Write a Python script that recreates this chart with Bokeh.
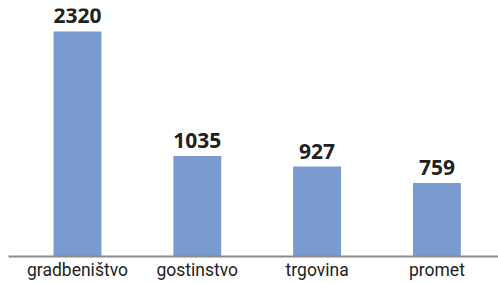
from bokeh.plotting import figure
from bokeh.models import ColumnDataSource, Range1d, FixedTicker, LabelSet
from bokeh.core.properties import value
from bokeh.embed import file_html
from bokeh.resources import INLINE

categories = ["gradbeništvo", "gostinstvo", "trgovina", "promet"]
values = [2320, 1035, 927, 759]

xs = list(range(len(categories)))
source = ColumnDataSource(dict(x=xs, value=values, label=[str(v) for v in values]))

p = figure(frame_width=490, frame_height=248, output_backend="svg", toolbar_location=None,
           x_range=Range1d(-0.576, 3.514), y_range=Range1d(0, 2557),
           min_border_left=8, min_border_right=0, min_border_top=8, min_border_bottom=0)

p.vbar(x="x", top="value", width=0.4, source=source, fill_color="#7A9BD0", line_color=None)

labels = LabelSet(x="x", y="value", text="label", source=source, text_align="center",
                  text_baseline="alphabetic", y_offset=8, text_font=value("Open Sans"),
                  text_font_style="bold", text_font_size="21px", text_color="#222222")
p.add_layout(labels)

p.yaxis.visible = False
p.xgrid.visible = False
p.ygrid.visible = False
p.outline_line_color = None

p.xaxis.ticker = FixedTicker(ticks=xs)
p.xaxis.major_label_overrides = {i: c for i, c in zip(xs, categories)}
p.xaxis.axis_line_color = "#8c8c8c"
p.xaxis.axis_line_width = 2
p.xaxis.major_tick_line_color = None
p.xaxis.minor_tick_line_color = None
p.xaxis.major_tick_out = 0
p.xaxis.major_tick_in = 0
p.xaxis.major_label_standoff = 3
p.xaxis.major_label_text_font = "Roboto"
p.xaxis.major_label_text_font_size = "17.5px"
p.xaxis.major_label_text_color = "#222222"

open("out.html", "w").write(file_html(p, INLINE))
